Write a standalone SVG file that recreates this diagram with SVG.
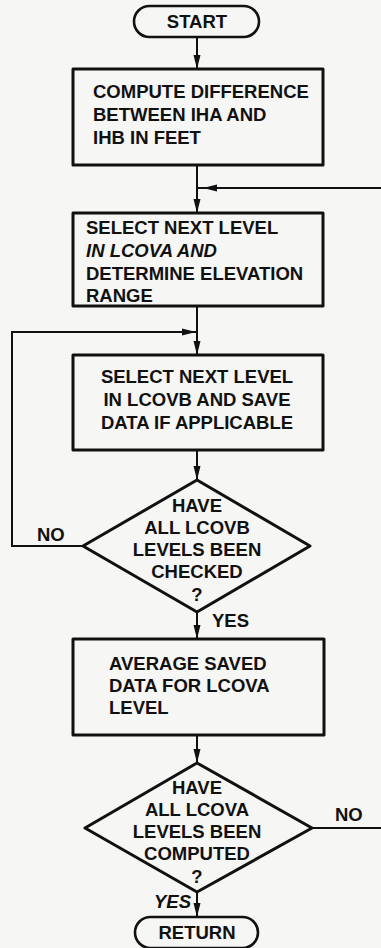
<svg xmlns="http://www.w3.org/2000/svg" width="381" height="948" viewBox="0 0 381 948">
  <defs>
    <marker id="arrow" markerUnits="userSpaceOnUse" markerWidth="14" markerHeight="8" refX="14" refY="4" orient="auto">
      <path d="M0,0.5 L14,4 L0,7.5 z" fill="#111"/>
    </marker>
  </defs>
  <style>
    .bg { fill: #f6f6f4; }
    .shape { fill: none; stroke: #111; stroke-width: 3; stroke-linejoin: round; }
    .term { fill: none; stroke: #111; stroke-width: 2.6; }
    .line { fill: none; stroke: #111; stroke-width: 2; }
    .arr { marker-end: url(#arrow); }
    .arrmid { marker-mid: url(#arrow); }
    text { font-family: "Liberation Sans", Arial, sans-serif; font-weight: bold; font-size: 18.5px; fill: #111; }
    .c { text-anchor: middle; }
    .it { font-style: italic; }
  </style>

  <rect class="bg" x="0" y="0" width="381" height="948"/>

  <g id="connectors">
    <path class="line arr" d="M197 37 V69"/>
    <path class="line arr" d="M197 165 V213"/>
    <path class="line arrmid" d="M381 188 L203 188 L197 188"/>
    <path class="line arr" d="M197 306 V355"/>
    <path class="line arr" d="M83 546 H12 V332 H196"/>
    <path class="line arr" d="M197 450 V480"/>
    <path class="line arr" d="M197 612 V639"/>
    <path class="line arr" d="M197 735 V763"/>
    <path class="line" d="M312 828 H381"/>
    <path class="line arr" d="M197 892 V917"/>
    <text x="37" y="541">NO</text>
    <text x="212" y="627">YES</text>
    <text x="335" y="821">NO</text>
    <text class="it" x="154" y="908">YES</text>
  </g>

  <g id="start">
    <rect class="term" x="134" y="6" width="125" height="31" rx="15.5"/>
    <text class="c" x="197" y="28">START</text>
  </g>

  <g id="compute-difference">
    <rect class="shape" x="73" y="69" width="250" height="96"/>
    <text x="93" y="98">COMPUTE DIFFERENCE</text>
    <text x="93" y="121">BETWEEN IHA AND</text>
    <text x="93" y="144">IHB IN FEET</text>
  </g>

  <g id="select-lcova">
    <rect class="shape" x="73" y="213" width="250" height="93"/>
    <text x="86" y="234">SELECT NEXT LEVEL</text>
    <text class="it" x="86" y="257">IN LCOVA AND</text>
    <text x="86" y="280">DETERMINE ELEVATION</text>
    <text x="86" y="302">RANGE</text>
  </g>

  <g id="select-lcovb">
    <rect class="shape" x="73" y="355" width="250" height="95"/>
    <text class="c" x="197" y="383">SELECT NEXT LEVEL</text>
    <text class="c" x="197" y="406">IN LCOVB AND SAVE</text>
    <text class="c" x="197" y="429">DATA IF APPLICABLE</text>
  </g>

  <g id="check-lcovb">
    <polygon class="shape" points="197,480 310,546 197,612 83,546"/>
    <text class="c" x="197" y="512">HAVE</text>
    <text class="c" x="197" y="534">ALL LCOVB</text>
    <text class="c" x="197" y="556">LEVELS BEEN</text>
    <text class="c" x="197" y="578">CHECKED</text>
    <text class="c" x="197" y="601">?</text>
  </g>

  <g id="average-data">
    <rect class="shape" x="73" y="639" width="251" height="96"/>
    <text x="109" y="670">AVERAGE SAVED</text>
    <text x="109" y="692">DATA FOR LCOVA</text>
    <text x="109" y="714">LEVEL</text>
  </g>

  <g id="check-lcova">
    <polygon class="shape" points="197,763 312,828 197,892 85,828"/>
    <text class="c" x="197" y="794">HAVE</text>
    <text class="c" x="197" y="816">ALL LCOVA</text>
    <text class="c" x="197" y="838">LEVELS BEEN</text>
    <text class="c" x="197" y="860">COMPUTED</text>
    <text class="c" x="197" y="883">?</text>
  </g>

  <g id="return">
    <rect class="term" x="135" y="917" width="123" height="31" rx="15.5"/>
    <text class="c" x="197" y="939">RETURN</text>
  </g>
</svg>
